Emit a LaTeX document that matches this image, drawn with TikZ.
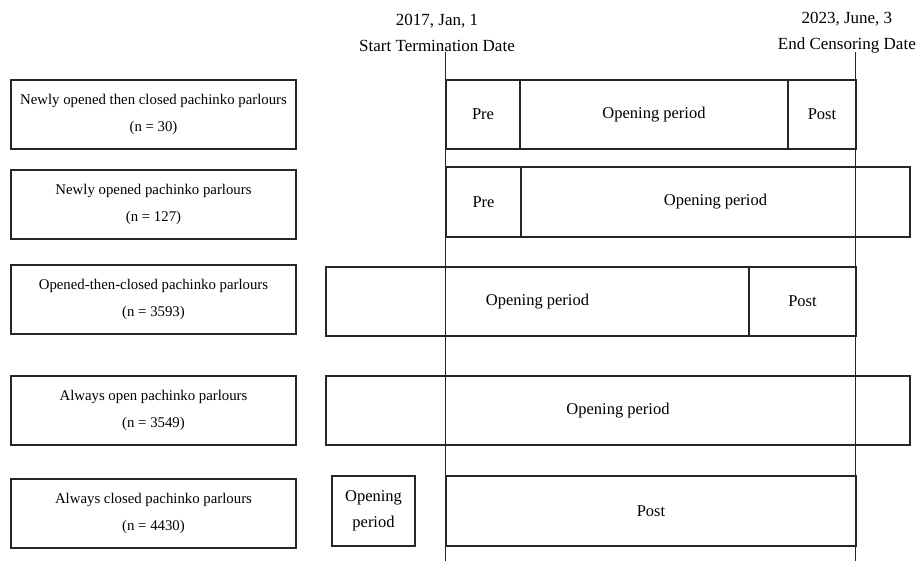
\documentclass[tikz,border=0pt]{standalone}
\usepackage{fontspec}
\setmainfont{Liberation Serif}
\begin{document}
\begin{tikzpicture}[x=1pt,y=-1pt,
  lbl/.style={draw=black!85, line width=2pt, anchor=north west, inner sep=0pt, align=center,
    font=\fontsize{14.8}{27.5}\selectfont},
  seg/.style={draw=black!85, line width=2pt, anchor=north west, inner sep=0pt, align=center,
    font=\fontsize{16.5}{26}\selectfont},
  hdr/.style={font=\fontsize{17}{26}\selectfont, align=center, inner sep=0pt},
  vline/.style={line width=1pt, draw=black!85}]
\useasboundingbox (0,0) rectangle (919,561);
% headers
\node[hdr] (h1) at (437,33) {2017, Jan, 1\\Start Termination Date};
\node[hdr, anchor=east] (h2) at (916,33) {2023, June, 3\\End Censoring Date};
% vertical lines
\coordinate (st) at (445,52); \coordinate (sb) at (445,561);
\coordinate (et) at (855,52); \coordinate (eb) at (855,561);
\draw[vline] (st) -- (sb);
\draw[vline] (et) -- (eb);
% left labels
\node[lbl, minimum width=285pt, minimum height=69pt] (l1) at (10,79) {Newly opened then closed pachinko parlours\\(n = 30)};
\node[lbl, minimum width=285pt, minimum height=69pt] (l2) at (10,169) {Newly opened pachinko parlours\\(n = 127)};
\node[lbl, minimum width=285pt, minimum height=69pt] (l3) at (10,264) {Opened-then-closed pachinko parlours\\(n = 3593)};
\node[lbl, minimum width=285pt, minimum height=69pt] (l4) at (10,375) {Always open pachinko parlours\\(n = 3549)};
\node[lbl, minimum width=285pt, minimum height=69pt] (l5) at (10,478) {Always closed pachinko parlours\\(n = 4430)};
% row 1
\node[seg, minimum width=74pt, minimum height=69pt] (r1a) at (445,79) {Pre};
\node[seg, minimum width=268pt, minimum height=69pt] (r1b) at (519,79) {Opening period};
\node[seg, minimum width=68pt, minimum height=69pt] (r1c) at (787,79) {Post};
% row 2
\node[seg, minimum width=75pt, minimum height=70pt] (r2a) at (445,166) {Pre};
\node[seg, minimum width=389pt, minimum height=70pt] (r2b) at (520,166) {Opening period};
% row 3
\node[seg, minimum width=423pt, minimum height=69pt] (r3a) at (325,266) {Opening period};
\node[seg, minimum width=107pt, minimum height=69pt] (r3b) at (748,266) {Post};
% row 4
\node[seg, minimum width=584pt, minimum height=69pt] (r4a) at (325,375) {Opening period};
% row 5
\node[seg, minimum width=83pt, minimum height=70pt] (r5a) at (331,475) {Opening\\period};
\node[seg, minimum width=410pt, minimum height=70pt] (r5b) at (445,475) {Post};
\end{tikzpicture}
\end{document}
